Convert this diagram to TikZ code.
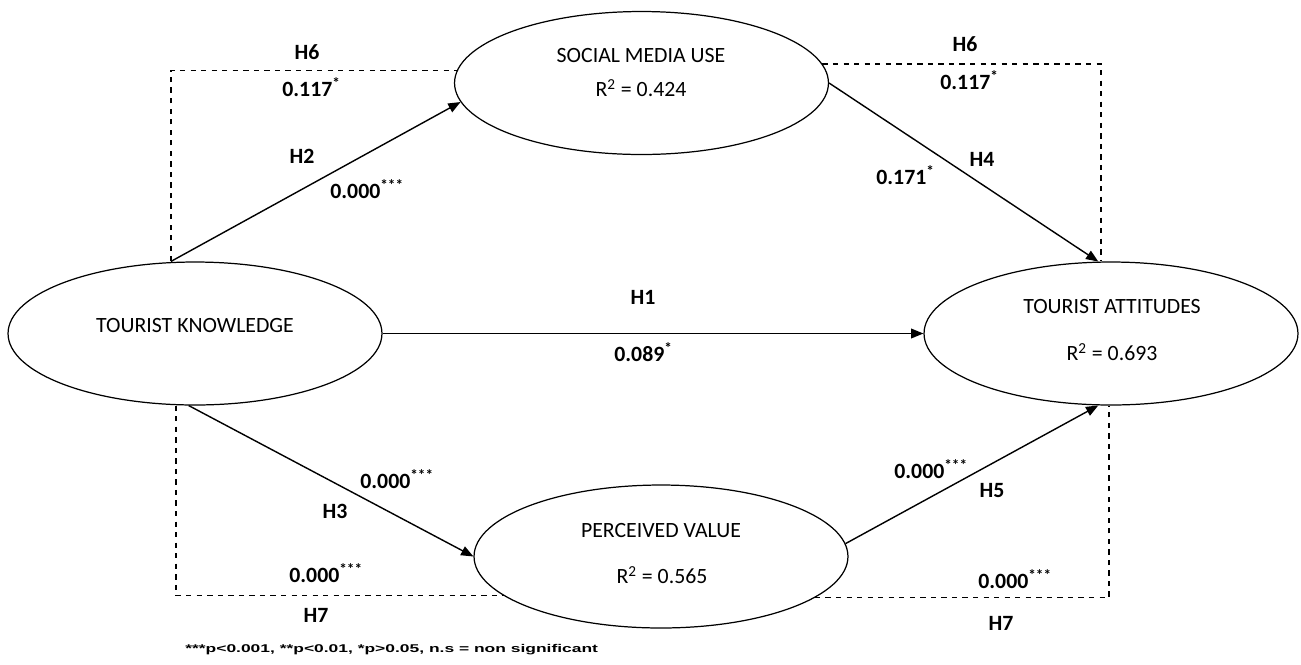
\documentclass[tikz,border=0pt]{standalone}
\usepackage{fontspec}
\setmainfont{Carlito}
\newfontfamily\notefont[FakeStretch=1.55]{Liberation Sans}
\usetikzlibrary{shapes.geometric,arrows.meta}

\begin{document}
\begin{tikzpicture}[
    x=0.02cm, y=-0.02cm,
    every node/.style={font=\fontsize{12.4}{15}\selectfont},
    construct/.style={draw, ellipse, line width=0.7pt, minimum width=7.48cm,
      minimum height=2.86cm, inner sep=0pt},
    hyp/.style={font=\fontsize{12.4}{15}\selectfont\bfseries},
    coef/.style={hyp, anchor=base west, inner sep=0pt},
    arrow/.style={line width=0.8pt,-{Triangle[length=7pt,width=5.5pt]}},
    link/.style={dashed, line width=0.6pt}
]
\useasboundingbox (0,0) rectangle (1301,664);

% constructs
\node (tk)  [construct] at (195,333.5) {};
\node (smu) [construct] at (641.5,83) {};
\node (ta)  [construct] at (1111,333.5) {};
\node (pv)  [construct] at (661,556.5) {};

\node (tkname)  at (195,325) {TOURIST KNOWLEDGE};
\node (smuname) at (641,56)  {SOCIAL MEDIA USE};
\node (smur2)   at (641,88)  {R\textsuperscript{2} = 0.424};
\node (taname)  at (1112,306) {TOURIST ATTITUDES};
\node (tar2)    at (1112,352) {R\textsuperscript{2} = 0.693};
\node (pvname)  at (661,530) {PERCEIVED VALUE};
\node (pvr2)    at (662,575) {R\textsuperscript{2} = 0.565};

% mediation paths (dashed)
\coordinate (h6l) at (171,0);
\coordinate (h6r) at (1101,0);
\coordinate (h7l) at (176,0);
\coordinate (h7r) at (1109,0);
\draw [link] (tk.north -| h6l) |- (smu.176);
\draw [link] (smu.6) -| (ta.north -| h6r);
\draw [link] (tk.south -| h7l) |- (pv.194);
\draw [link] (pv.-15) -| (ta.south -| h7r);

% direct paths
\draw [arrow] (tk.north -| h6l) -- (smu.186);
\draw [arrow] (smu.east) -- (ta.100);
\draw [arrow] (tk.east)  -- (ta.west);
\draw [arrow] (tk.265)   -- (pv.west);
\draw [arrow] (pv.4)     -- (ta.-100);

% hypotheses and coefficients
\node (h6a) [hyp]  at (307,52)    {H6};
\node (b6a) [coef] at (282,96.5)  {0.117\textsuperscript{*}};
\node (h2)  [hyp]  at (302,156)   {H2};
\node (b2)  [coef] at (330,198.5) {0.000\textsuperscript{***}};
\node (h6b) [hyp]  at (965,44)    {H6};
\node (b6b) [coef] at (940,89.5)  {0.117\textsuperscript{*}};
\node (h4)  [hyp]  at (982,159)   {H4};
\node (b4)  [coef] at (876,184.5) {0.171\textsuperscript{*}};
\node (h1)  [hyp]  at (643,297)   {H1};
\node (b1)  [coef] at (614,361.5) {0.089\textsuperscript{*}};
\node (b3)  [coef] at (360,488.5) {0.000\textsuperscript{***}};
\node (h3)  [hyp]  at (335,511)   {H3};
\node (b7a) [coef] at (289,582.5) {0.000\textsuperscript{***}};
\node (h7a) [hyp]  at (316,615)   {H7};
\node (b5)  [coef] at (894,478.5) {0.000\textsuperscript{***}};
\node (h5)  [hyp]  at (992,490)   {H5};
\node (b7b) [coef] at (978,588.5) {0.000\textsuperscript{***}};
\node (h7b) [hyp]  at (1001,623)  {H7};

\node (note) [anchor=base west, inner sep=0pt,
  font=\notefont\bfseries\fontsize{6.4}{8}\selectfont] at (185,652)
  {***p<0.001, **p<0.01, *p>0.05, n.s = non significant};
\end{tikzpicture}
\end{document}
